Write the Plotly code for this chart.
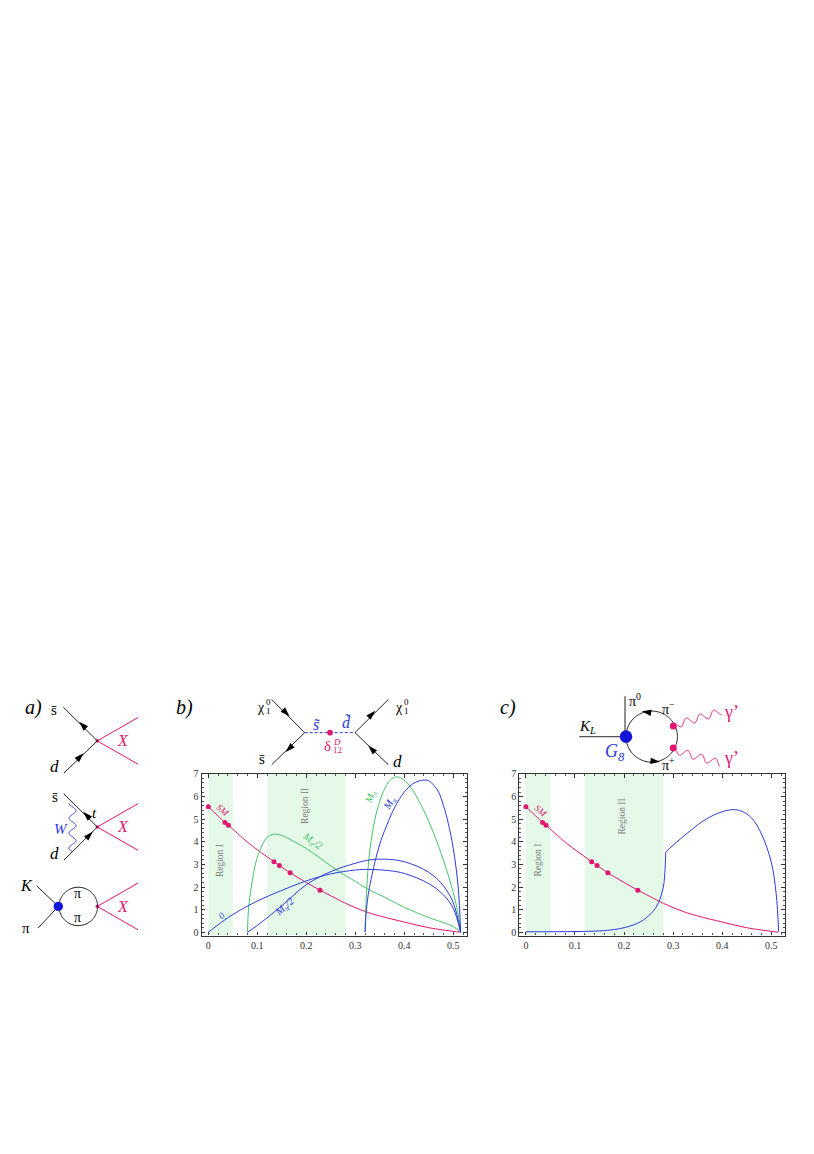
import numpy as np
import plotly.graph_objects as go

W, H = 814, 1154
SERIF = "Liberation Serif"
PINK = "#e0156f"
GREEN = "#45c46a"
BLUE = "#2e3ad8"
BAND = "#e4f9e8"
GRAY = "#808080"

# curves shared by both plots
sm_x = [0, 0.02, 0.034, 0.041, 0.08, 0.1, 0.134, 0.145, 0.167, 0.2, 0.228, 0.26, 0.28, 0.32, 0.35, 0.4, 0.45, 0.5, 0.515]
sm_y = [5.55, 5.14, 4.85, 4.73, 3.98, 3.65, 3.12, 2.95, 2.63, 2.2, 1.86, 1.5, 1.28, 0.92, 0.72, 0.45, 0.2, 0.04, 0]
dots_x = [0, 0.034, 0.041, 0.134, 0.145, 0.167, 0.228]
dots_y = [5.55, 4.85, 4.73, 3.12, 2.95, 2.63, 1.86]
region_1 = [0, 0.05]
region_2 = [0.12, 0.28]

# plot b
green_half_x = [0.08, 0.0805, 0.082, 0.085, 0.09, 0.095, 0.1, 0.11, 0.12, 0.13, 0.135, 0.15, 0.17, 0.2, 0.23, 0.26, 0.3, 0.33, 0.36, 0.4, 0.45, 0.5, 0.515]
green_half_y = [0, 0.4, 1, 1.6, 2.3, 2.9, 3.3, 3.85, 4.2, 4.32, 4.34, 4.28, 4.07, 3.7, 3.25, 2.78, 2.25, 1.85, 1.55, 1.1, 0.65, 0.25, 0]
green_full_x = [0.32, 0.321, 0.323, 0.326, 0.33, 0.335, 0.34, 0.35, 0.36, 0.37, 0.38, 0.385, 0.395, 0.41, 0.43, 0.45, 0.47, 0.49, 0.5, 0.51, 0.515]
green_full_y = [0, 0.8, 1.8, 2.8, 3.7, 4.4, 5, 5.8, 6.35, 6.7, 6.85, 6.87, 6.8, 6.5, 5.8, 4.9, 3.8, 2.5, 1.75, 0.8, 0]
blue_zero_x = [0, 0.02, 0.05, 0.1, 0.15, 0.2, 0.25, 0.3, 0.33, 0.37, 0.4, 0.45, 0.48, 0.5, 0.515]
blue_zero_y = [0, 0.33, 0.78, 1.38, 1.85, 2.27, 2.58, 2.75, 2.78, 2.72, 2.6, 2.15, 1.65, 1.05, 0]
blue_half_x = [0.08, 0.1, 0.15, 0.2, 0.25, 0.3, 0.33, 0.36, 0.4, 0.45, 0.48, 0.5, 0.515]
blue_half_y = [0, 0.3, 1.17, 2.1, 2.68, 3.05, 3.2, 3.23, 3.12, 2.65, 2.05, 1.3, 0]
blue_full_x = [0.32, 0.322, 0.326, 0.33, 0.34, 0.35, 0.36, 0.38, 0.4, 0.42, 0.44, 0.45, 0.46, 0.47, 0.48, 0.49, 0.5, 0.51, 0.515]
blue_full_y = [0, 0.8, 1.6, 2.1, 3.1, 3.9, 4.5, 5.5, 6.2, 6.6, 6.73, 6.7, 6.5, 6.2, 5.6, 4.8, 3.7, 2, 0]

# plot c
blue_c_low_x = [0, 0.1, 0.15, 0.18, 0.2, 0.22, 0.24, 0.26, 0.27, 0.28, 0.283, 0.285]
blue_c_low_y = [0.02, 0.03, 0.06, 0.12, 0.2, 0.33, 0.55, 0.95, 1.3, 2.0, 2.6, 3.55]
blue_c_high_x = [0.285, 0.3, 0.33, 0.36, 0.39, 0.42, 0.44, 0.46, 0.48, 0.5, 0.51, 0.515]
blue_c_high_y = [3.55, 3.85, 4.4, 4.9, 5.25, 5.42, 5.35, 5.05, 4.35, 3.1, 1.7, 0.03]

fig = go.Figure()


def curve(xs, ys, color, axis):
    fig.add_trace(go.Scatter(x=xs, y=ys, mode="lines", xaxis="x" + axis, yaxis="y" + axis,
                             line=dict(color=color, width=1.0, shape="spline", smoothing=1.0),
                             hoverinfo="skip", showlegend=False))


def ann(x, y, text, size=10, color="black", italic=False, angle=0, ref="3"):
    if italic:
        text = "<i>" + text + "</i>"
    fig.add_annotation(x=x, y=y, xref="x" + ref, yref="y" + ref, text=text, showarrow=False,
                       textangle=angle, font=dict(family=SERIF, size=size, color=color))


def line(xs, ys, color="#222222", width=1.0, dash=None):
    fig.add_trace(go.Scatter(x=xs, y=ys, mode="lines", xaxis="x3", yaxis="y3",
                             line=dict(color=color, width=width, dash=dash, simplify=False),
                             hoverinfo="skip", showlegend=False))


def arrow(x, y, angle):
    # у маркера arrow точка привязки на острие
    a = np.radians(angle)
    fig.add_trace(go.Scatter(x=[x + 5 * np.sin(a)], y=[y - 5 * np.cos(a)], mode="markers", xaxis="x3", yaxis="y3",
                             marker=dict(symbol="arrow", size=10, angle=angle, color="black"),
                             hoverinfo="skip", showlegend=False))


def dot(x, y, r, color):
    fig.add_trace(go.Scatter(x=[x], y=[y], mode="markers", xaxis="x3", yaxis="y3",
                             marker=dict(size=2 * r, color=color),
                             hoverinfo="skip", showlegend=False))


def circle(cx, cy, r):
    t = np.linspace(0, 2 * np.pi, 120)
    line(cx + r * np.cos(t), cy + r * np.sin(t))


def wiggle(x0, y0, x1, y1, waves, amp, color, phase=0.0):
    # волнистая линия пропагатора
    t = np.linspace(0, 1, 200)
    dx, dy = x1 - x0, y1 - y0
    n = np.hypot(dx, dy)
    s = amp * np.sin(2 * np.pi * waves * t + phase)
    line(x0 + dx * t - dy / n * s, y0 + dy * t + dx / n * s, color=color, width=1.0)


def plot_panel(axis):
    for band in (region_1, region_2):
        fig.add_shape(type="rect", xref="x" + axis, yref="y" + axis, x0=band[0], x1=band[1],
                      y0=-0.145, y1=7, fillcolor=BAND, line_width=0, layer="below")
    curve(sm_x, sm_y, PINK, axis)
    fig.add_trace(go.Scatter(x=dots_x, y=dots_y, mode="markers", xaxis="x" + axis, yaxis="y" + axis,
                             marker=dict(size=5, color=PINK), hoverinfo="skip", showlegend=False))


plot_panel("")
for xs, ys, col in [(green_half_x, green_half_y, GREEN), (green_full_x, green_full_y, GREEN),
                    (blue_zero_x, blue_zero_y, BLUE), (blue_half_x, blue_half_y, BLUE),
                    (blue_full_x, blue_full_y, BLUE)]:
    curve(xs, ys, col, "")
plot_panel("2")
curve(blue_c_low_x, blue_c_low_y, BLUE, "2")
curve(blue_c_high_x, blue_c_high_y, BLUE, "2")

# подписи на графиках
ann(0.024, 3.15, "Region I", 9.5, GRAY, angle=-90, ref="")
ann(0.196, 5.6, "Region II", 9.5, GRAY, angle=-90, ref="")
ann(0.029, 5.4, "SM", 9.5, PINK, True, 40, ref="")
ann(0.211, 4.0, "M<sub>π</sub>/2", 10.5, GREEN, True, 35, ref="")
ann(0.333, 6.0, "M<sub>π</sub>", 10.5, GREEN, True, -70, ref="")
ann(0.371, 5.7, "M<sub>π</sub>", 10.5, BLUE, True, -60, ref="")
ann(0.027, 0.73, "0", 9.5, BLUE, True, -40, ref="")
ann(0.156, 1.1, "M<sub>π</sub>/2", 10.5, BLUE, True, -42, ref="")
ann(0.024, 3.2, "Region I", 9.5, GRAY, angle=-90, ref="2")
ann(0.195, 5.1, "Region II", 9.5, GRAY, angle=-90, ref="2")
ann(0.03, 5.36, "SM", 9.5, PINK, True, 40, ref="2")

# diagrams a)
ann(33, 706, "a)", 20, italic=True)
for vy in (740, 826.7, 906.7):
    line([97.3, 138], [vy, vy - 23.5], PINK)
    line([97.3, 138], [vy, vy + 23.5], PINK)
    dot(97.3, vy, 1.8, PINK)
    ann(123.3, vy, "X", 16, PINK, True)
line([63.3, 97.3], [706, 740])
line([64, 97.3], [772.3, 740])
arrow(82.7, 724.3, -45)
arrow(80, 756, 45)
ann(54.3, 709, "s̄", 15)
ann(54.3, 766, "d", 17, italic=True)
line([63.8, 97.3], [793.3, 826.7])
line([64, 97.3], [860, 826.7])
arrow(86.7, 815, -45)
arrow(89.3, 835, 45)
wiggle(72.5, 802.7, 72.5, 851.7, 3.25, 3.5, BLUE, np.pi / 2)
ann(60.7, 828.3, "W", 15, BLUE, True)
ann(94.3, 813, "t", 15, italic=True)
ann(55, 797, "s̄", 15)
ann(54.3, 853, "d", 17, italic=True)
line([36.7, 58.3], [886, 906.7])
line([38.3, 58.3], [928.3, 906.7])
circle(78.3, 906.7, 19.3)
dot(58.3, 906.7, 4.7, "#1414d8")
ann(26, 886, "K", 16, italic=True)
ann(26, 928, "π", 15)
ann(77.7, 893.3, "π", 14)
ann(77.7, 918.3, "π", 14)

# diagram b)
ann(184, 706, "b)", 20, italic=True)
line([271.7, 304.7], [698.3, 731.7])
line([271.7, 304.7], [764, 731.7])
line([388.3, 355], [698.3, 731.7])
line([388.3, 355], [764, 731.7])
line([304.7, 355], [731.7, 731.7], BLUE, 1.0, "3px,2px")
arrow(286, 711.7, 135)
arrow(289.3, 747.7, 225)
arrow(371.7, 713.3, 45)
arrow(371.7, 748.3, -45)
dot(330, 731.7, 2.8, PINK)
ann(316.7, 724, "s̃", 16, BLUE, True)
ann(346, 722, "d̃", 16, BLUE, True)
ann(327, 745, "δ", 15, PINK)
ann(336.5, 741, "D", 9, PINK, True)
ann(337, 749.5, "12", 9, PINK)
ann(261, 706, "χ", 14)
ann(268.5, 701, "0", 9)
ann(268.5, 710, "1", 9)
ann(399, 706, "χ", 14)
ann(406, 701, "0", 9)
ann(406, 710, "1", 9)
ann(262.3, 758, "s̄", 15)
ann(397.3, 761, "d", 17, italic=True)

# diagram c)
ann(508, 706, "c)", 20, italic=True)
line([579.3, 626], [735.7, 735.7], "#555555", 1.2)
line([625, 625], [695, 735.7])
circle(651.7, 735.7, 25.7)
arrow(646.7, 711, -80)
arrow(655, 760.5, 95)
dot(626, 735.7, 6.3, "#1414d8")
dot(673.3, 725, 3.5, PINK)
dot(673.3, 747.3, 3.5, PINK)
wiggle(676.7, 723.3, 720.7, 710.7, 3.2, 3.5, PINK)
wiggle(676.7, 750, 720.7, 762.7, 3.2, 3.5, PINK)
ann(587.7, 726, "K<sub>L</sub>", 15, italic=True)
ann(615, 752, "G<sub>8</sub>", 18, BLUE, True)
ann(635, 699, "π<sup>0</sup>", 14)
ann(668.3, 707, "π<sup>−</sup>", 14)
ann(668.3, 763, "π<sup>+</sup>", 14)
ann(731.7, 711, "γ’", 18, PINK)
ann(731.7, 757, "γ’", 18, PINK)

x_axis = dict(range=[-0.0135, 0.528], tickmode="array", tickvals=[0, 0.1, 0.2, 0.3, 0.4, 0.5],
              ticktext=["0", "0.1", "0.2", "0.3", "0.4", "0.5"], ticks="inside", ticklen=3.5,
              tickcolor="#333333", mirror="allticks", showline=True, linecolor="#333333", linewidth=1.2,
              showgrid=False, zeroline=False, tickfont=dict(family=SERIF, size=10, color="#333333"),
              minor=dict(ticks="inside", dtick=0.02, ticklen=2, tickcolor="#555555", showgrid=False))
y_axis = dict(range=[-0.145, 7], tickmode="array", tickvals=list(range(8)), ticks="inside", ticklen=3.5,
              tickcolor="#333333", mirror="allticks", showline=True, linecolor="#333333", linewidth=1.2,
              showgrid=False, zeroline=False, tickfont=dict(family=SERIF, size=10, color="#333333"),
              minor=dict(ticks="inside", dtick=0.2, ticklen=2, tickcolor="#555555", showgrid=False))
top, bottom = 773.3, 936
ydom = [1 - bottom / H, 1 - top / H]
fig.update_layout(
    width=W, height=H, margin=dict(l=0, r=0, t=0, b=0), paper_bgcolor="white", plot_bgcolor="rgba(0,0,0,0)",
    showlegend=False,
    xaxis=dict(x_axis, domain=[201.7 / W, 467 / W], anchor="y"),
    yaxis=dict(y_axis, domain=ydom, anchor="x"),
    xaxis2=dict(x_axis, domain=[519.3 / W, 785 / W], anchor="y2"),
    yaxis2=dict(y_axis, domain=ydom, anchor="x2"),
    xaxis3=dict(domain=[0, 1], range=[0, W], visible=False, anchor="y3"),
    yaxis3=dict(domain=[0, 1], range=[H, 0], visible=False, anchor="x3"),
)
fig.write_html("out.html", config={"displayModeBar": False}, post_script="document.body.style.margin='0';")
